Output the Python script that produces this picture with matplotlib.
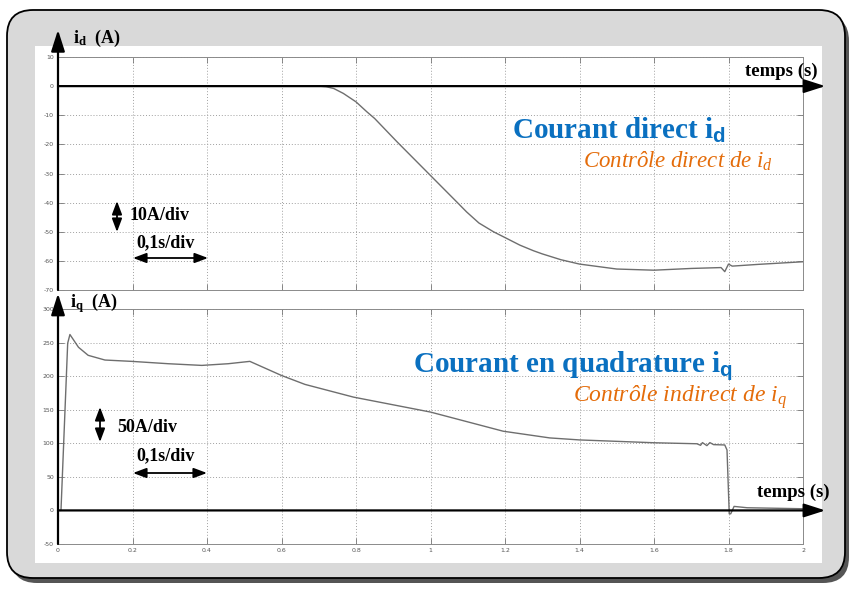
import matplotlib
matplotlib.use("Agg")
import matplotlib.pyplot as plt
from matplotlib.patches import FancyBboxPatch, Rectangle

plt.rcParams['mathtext.fontset'] = 'custom'
plt.rcParams['mathtext.rm'] = 'Liberation Serif'
plt.rcParams['mathtext.bf'] = 'Liberation Serif:bold'
plt.rcParams['mathtext.it'] = 'Liberation Serif:italic'
plt.rcParams['mathtext.sf'] = 'Liberation Sans:bold'

# ---------------- data ----------------
t_d = [0.0, 0.70, 0.72, 0.74, 0.766, 0.80, 0.829, 0.85, 0.91, 0.99, 1.07, 1.097,
       1.13, 1.169, 1.20, 1.24, 1.276, 1.30, 1.35, 1.40, 1.50, 1.60, 1.70, 1.78,
       1.79, 1.80, 1.81, 1.88, 2.0]
i_d = [0.0, 0.0, -0.2, -0.8, -2.5, -5.4, -8.8, -11.1, -19.1, -29.4, -39.7, -43.2,
       -47.0, -50.0, -52.0, -54.6, -56.5, -57.6, -59.6, -61.1, -62.8, -63.2, -62.6, -62.3,
       -63.7, -61.1, -61.8, -61.2, -60.3]

t_q = [0.0, 0.008, 0.026, 0.032, 0.055, 0.081, 0.126, 0.198, 0.296, 0.386, 0.457,
       0.515, 0.60, 0.663, 0.793, 1.0, 1.195, 1.32, 1.40, 1.60, 1.715, 1.725, 1.73,
       1.742, 1.75, 1.76, 1.79, 1.796, 1.802, 1.806, 1.815, 1.85, 2.0]
i_q = [0.0, 0.0, 249, 262, 243, 231, 224, 222, 218.5, 216, 218.5,
       222, 201, 187.7, 168.8, 146.5, 118, 108, 105, 100.8, 99.3, 97, 101,
       96.5, 101, 98, 97.5, 90, -5, -5, 6, 4, 2.5]

x_ticks = [0, 0.2, 0.4, 0.6, 0.8, 1, 1.2, 1.4, 1.6, 1.8, 2]
x_ticklabels = ['0', '0.2', '0.4', '0.6', '0.8', '1', '1.2', '1.4', '1.6', '1.8', '2']
yd_ticks = [10, 0, -10, -20, -30, -40, -50, -60, -70]
yq_ticks = [300, 250, 200, 150, 100, 50, 0, -50]

W, H = 850, 594
fig = plt.figure(figsize=(W / 100, H / 100), dpi=100)
fig.patch.set_facecolor('white')


def fx(x):
    return x / W


def fy(y):
    return 1 - y / H


# ---------------- background frame ----------------
bg = fig.add_axes([0, 0, 1, 1], zorder=0)
bg.set_xlim(0, W)
bg.set_ylim(H, 0)
bg.axis('off')
shadow = FancyBboxPatch((11, 15), 838, 568, boxstyle="round,pad=0,rounding_size=26",
                        fc='#555555', ec='none')
frame = FancyBboxPatch((7, 10), 838, 568, boxstyle="round,pad=0,rounding_size=26",
                       fc='#d9d9d9', ec='black', lw=1.3)
inner = Rectangle((35, 46), 787, 517, fc='white', ec='none')
for p in (shadow, frame, inner):
    bg.add_patch(p)

grey_line = '#6e6e6e'


def style_axes(ax, yticks, ylim):
    ax.set_xlim(0, 2)
    ax.set_ylim(*ylim)
    ax.set_xticks(x_ticks)
    ax.set_yticks(yticks)
    ax.set_yticklabels([str(v) for v in yticks])
    ax.grid(True, color='#a0a0a0', linestyle=(0, (1, 2)), linewidth=0.7)
    ax.tick_params(direction='in', length=4, width=0.6, color='#777777',
                   top=True, right=True, labelsize=4.5, labelcolor='#555555', pad=3)
    for s in ax.spines.values():
        s.set_color('#8a8a8a')
        s.set_linewidth(0.7)
    ax.set_facecolor('white')


# ---------------- top axes : i_d ----------------
ax1 = fig.add_axes([fx(58), fy(290), fx(803) - fx(58), fy(57) - fy(290)], zorder=2)
style_axes(ax1, yd_ticks, (-70, 10))
ax1.set_xticklabels([])
ax1.plot(t_d, i_d, color=grey_line, lw=1.0, zorder=3)

arrow_kw = dict(arrowstyle='-|>,head_length=1.0,head_width=0.32', color='black',
                lw=1.6, mutation_scale=13, shrinkA=0, shrinkB=0)
ax1.annotate('', xy=(2.06, 0), xytext=(0, 0), arrowprops=arrow_kw, annotation_clip=False)
ax1.annotate('', xy=(0, 19.3), xytext=(0, -70), arrowprops=arrow_kw, annotation_clip=False)

# ---------------- bottom axes : i_q ----------------
ax2 = fig.add_axes([fx(58), fy(544), fx(803) - fx(58), fy(309) - fy(544)], zorder=2)
style_axes(ax2, yq_ticks, (-50, 300))
ax2.set_xticklabels(x_ticklabels)
ax2.plot(t_q, i_q, color=grey_line, lw=1.0, zorder=3)
ax2.annotate('', xy=(2.06, 0), xytext=(0, 0), arrowprops=arrow_kw, annotation_clip=False)
ax2.annotate('', xy=(0, 323), xytext=(0, -50), arrowprops=arrow_kw, annotation_clip=False)

# ---------------- overlay for annotations ----------------
ov = fig.add_axes([0, 0, 1, 1], zorder=10)
ov.set_xlim(0, W)
ov.set_ylim(H, 0)
ov.axis('off')
ov.patch.set_alpha(0)

serif = 'Liberation Serif'
blue = '#0a70c0'
orange = '#e46c0a'


def txt(x, y, s, **kw):
    d = dict(family=serif, va='baseline', ha='left')
    d.update(kw)
    ov.text(x, y, s, **d)


txt(73, 43, r'i$_\mathbf{d}$  (A)', fontsize=13, weight='bold')
txt(70, 307, r'i$_\mathbf{q}$  (A)', fontsize=13, weight='bold')
txt(745, 76, 'temps (s)', fontsize=13.5, weight='bold')
txt(757, 497, 'temps (s)', fontsize=13.5, weight='bold')

txt(512, 139, r'Courant direct i$_\mathsf{d}$', fontsize=21, weight='bold', color=blue)
txt(583, 168, r'Contrôle direct de i$_\mathit{d}$', fontsize=16.5, style='italic', color=orange)
txt(413, 372, r'Courant en quadrature i$_\mathsf{q}$', fontsize=21, weight='bold', color=blue)
txt(573, 402, r'Contrôle indirect de i$_\mathit{q}$', fontsize=17, style='italic', color=orange)

txt(130, 220, '10A/div', fontsize=13, weight='bold')
txt(136, 247, '0,1s/div', fontsize=13, weight='bold')
txt(117, 432, '50A/div', fontsize=13, weight='bold')
txt(136, 460, '0,1s/div', fontsize=13, weight='bold')

dbl = dict(arrowstyle='<|-|>,head_length=0.8,head_width=0.3', color='black',
           lw=1.3, mutation_scale=10, shrinkA=0, shrinkB=0)
for (x0, y0, x1, y1) in [(117, 201, 117, 232), (133, 258, 208, 258),
                         (100, 407, 100, 442), (133, 473, 207, 473)]:
    ov.annotate('', xy=(x1, y1), xytext=(x0, y0), xycoords='data', arrowprops=dbl)

fig.savefig('out.png', dpi=100)
